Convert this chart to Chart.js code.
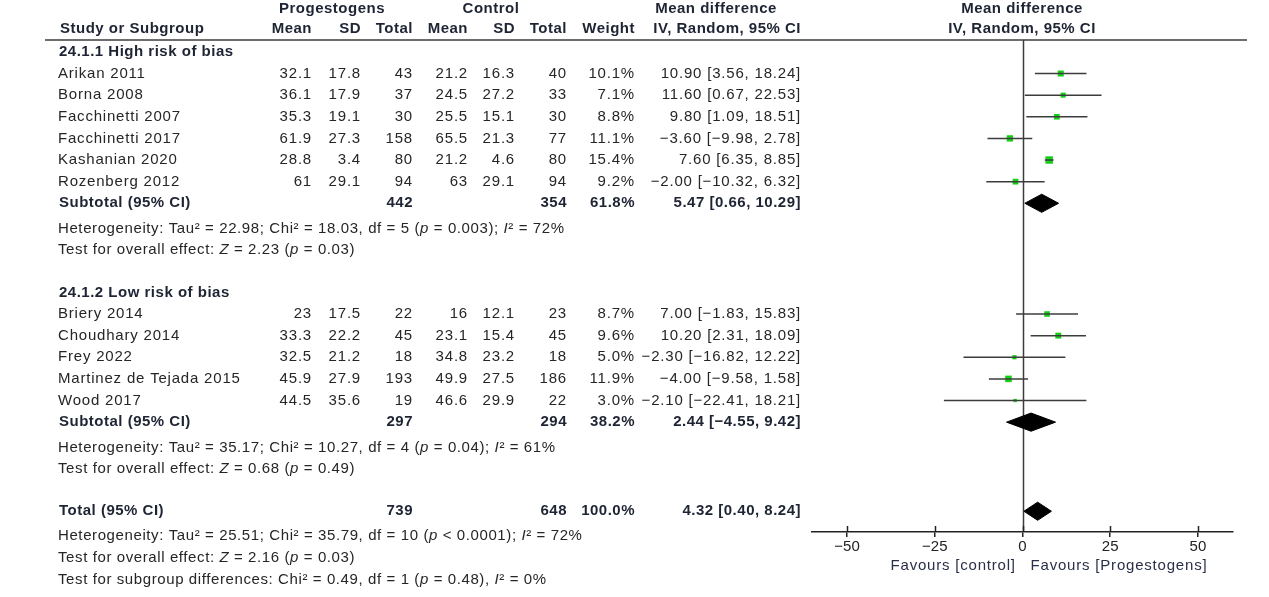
<!DOCTYPE html>
<html>
<head>
<meta charset="utf-8">
<script src="https://cdn.jsdelivr.net/npm/chart.js@4.4.1/dist/chart.umd.min.js"></script>
<style>
  html, body { margin: 0; padding: 0; background: #fff; }
  canvas { display: block; }
</style>
</head>
<body>
<canvas id="forest" width="1269" height="597"></canvas>
<script>
// study data
const studies = ['Arikan 2011', 'Borna 2008', 'Facchinetti 2007', 'Facchinetti 2017', 'Kashanian 2020', 'Rozenberg 2012',
                 'Briery 2014', 'Choudhary 2014', 'Frey 2022', 'Martinez de Tejada 2015', 'Wood 2017'];
const studyGroup = [0, 0, 0, 0, 0, 0, 1, 1, 1, 1, 1];
const progMean = [32.1, 36.1, 35.3, 61.9, 28.8, 61, 23, 33.3, 32.5, 45.9, 44.5];
const progSD = [17.8, 17.9, 19.1, 27.3, 3.4, 29.1, 17.5, 22.2, 21.2, 27.9, 35.6];
const progN = [43, 37, 30, 158, 80, 94, 22, 45, 18, 193, 19];
const ctrlMean = [21.2, 24.5, 25.5, 65.5, 21.2, 63, 16, 23.1, 34.8, 49.9, 46.6];
const ctrlSD = [16.3, 27.2, 15.1, 21.3, 4.6, 29.1, 12.1, 15.4, 23.2, 27.5, 29.9];
const ctrlN = [40, 33, 30, 77, 80, 94, 23, 45, 18, 186, 22];
const weight = [10.1, 7.1, 8.8, 11.1, 15.4, 9.2, 8.7, 9.6, 5.0, 11.9, 3.0];
const md = [10.90, 11.60, 9.80, -3.60, 7.60, -2.00, 7.00, 10.20, -2.30, -4.00, -2.10];
const ciLow = [3.56, 0.67, 1.09, -9.98, 6.35, -10.32, -1.83, 2.31, -16.82, -9.58, -22.41];
const ciHigh = [18.24, 22.53, 18.51, 2.78, 8.85, 6.32, 15.83, 18.09, 12.22, 1.58, 18.21];

// subgroups + overall (last entry = total)
const groupNames = ['24.1.1 High risk of bias', '24.1.2 Low risk of bias'];
const pooledLabel = ['Subtotal (95% CI)', 'Subtotal (95% CI)', 'Total (95% CI)'];
const pooledProgN = [442, 297, 739];
const pooledCtrlN = [354, 294, 648];
const pooledWeight = [61.8, 38.2, 100.0];
const pooledMd = [5.47, 2.44, 4.32];
const pooledLow = [0.66, -4.55, 0.40];
const pooledHigh = [10.29, 9.42, 8.24];
const hetTau = ['22.98', '35.17', '25.51'];
const hetChi = ['18.03', '10.27', '35.79'];
const hetDf = [5, 4, 10];
const hetP = ['= 0.003', '= 0.04', '< 0.0001'];
const hetI2 = [72, 61, 72];
const effZ = ['2.23', '0.68', '2.16'];
const effP = ['0.03', '0.49', '0.03'];
const subgroupDiff = 'Test for subgroup differences: Chi² = 0.49, df = 1 (_p_ = 0.48), _I_² = 0%';

const xTicks = [-50, -25, 0, 25, 50];

// ---- row layout (in row units) ----
const FONT = '"Liberation Sans", Arial, sans-serif';
const TEXT = '#262626';
const HEAD = '#1e2433';
const lines = [];   // {pos, kind, ...}
const studyRow = [];
const pooledRow = [];
let pos = 0;
for (let g = 0; g < groupNames.length; g++) {
  lines.push({ pos, kind: 'group', g });
  studies.forEach((s, i) => {
    if (studyGroup[i] !== g) return;
    pos += 1;
    studyRow[i] = pos;
    lines.push({ pos, kind: 'study', i });
  });
  pos += 1;
  pooledRow[g] = pos;
  lines.push({ pos, kind: 'pooled', g });
  pos += 1.17;
  lines.push({ pos, kind: 'het', g });
  pos += 1;
  lines.push({ pos, kind: 'z', g });
  pos += 1.95;
}
pooledRow[2] = pos;
lines.push({ pos, kind: 'pooled', g: 2 });
pos += 1.15;
lines.push({ pos, kind: 'het', g: 2 });
pos += 1;
lines.push({ pos, kind: 'z', g: 2 });
pos += 1;
lines.push({ pos, kind: 'diff' });

const fmt = (v, d) => (d === undefined ? String(v) : v.toFixed(d)).replace('-', '\u2212');
const ciText = (m, lo, hi) => fmt(m, 2) + ' [' + fmt(lo, 2) + ', ' + fmt(hi, 2) + ']';

// ---- datasets ----
const datasets = [];
studies.forEach((s, i) => {
  datasets.push({
    type: 'line',
    data: [{ x: ciLow[i], y: studyRow[i] }, { x: ciHigh[i], y: studyRow[i] }],
    borderColor: '#3c3c3c', borderWidth: 1.5, pointRadius: 0, tension: 0, fill: false
  });
});
datasets.push({
  type: 'scatter',
  data: studies.map((s, i) => ({ x: md[i], y: studyRow[i] })),
  pointStyle: 'rect',
  pointRadius: weight.map(w => 1.9 * Math.sqrt(w) / Math.SQRT2),
  backgroundColor: '#14d014', borderWidth: 0
});
const DIAMOND_H = 0.42;
pooledMd.forEach((m, g) => {
  const r = pooledRow[g];
  datasets.push({
    type: 'line',
    data: [
      { x: pooledLow[g], y: r }, { x: m, y: r - DIAMOND_H },
      { x: pooledHigh[g], y: r }, { x: m, y: r + DIAMOND_H }, { x: pooledLow[g], y: r }
    ],
    borderColor: '#000', borderWidth: 1, backgroundColor: '#000',
    pointRadius: 0, tension: 0, fill: 'shape'
  });
});

// ---- text table plugin ----
function drawRich(ctx, str, x, y) {
  const parts = str.split('_');
  let cx = x;
  parts.forEach((p, k) => {
    ctx.font = (k % 2 ? 'italic ' : '') + '15px ' + FONT;
    ctx.textAlign = 'left';
    ctx.fillText(p, cx, y);
    cx += ctx.measureText(p).width;
  });
}

const tablePlugin = {
  id: 'table',
  beforeDatasetsDraw(chart) {
    const { ctx, chartArea, scales: { x } } = chart;
    ctx.save();
    ctx.strokeStyle = '#3c3c3c';
    ctx.lineWidth = 1.5;
    const x0 = Math.round(x.getPixelForValue(0)) + 0.5;
    ctx.beginPath();
    ctx.moveTo(x0, chartArea.top);
    ctx.lineTo(x0, chartArea.bottom);
    ctx.stroke();
    ctx.restore();
  },
  afterDraw(chart) {
    const { ctx, chartArea, scales: { x, y } } = chart;
    const py = v => y.getPixelForValue(v);
    ctx.save();
    ctx.textBaseline = 'middle';
    const put = (s, px, yy, align, bold, color) => {
      ctx.font = (bold ? 'bold ' : '') + '15px ' + FONT;
      ctx.letterSpacing = bold ? '0.5px' : '0.8px';
      ctx.fillStyle = color || (bold ? HEAD : TEXT);
      ctx.textAlign = align;
      ctx.fillText(s, px, yy);
    };
    // header
    const h1 = py(-2.0), h2 = py(-1.06);
    put('Progestogens', 332, h1, 'center', true);
    put('Control', 491, h1, 'center', true);
    put('Mean difference', 716, h1, 'center', true);
    put('Mean difference', 1022, h1, 'center', true);
    put('Study or Subgroup', 60, h2, 'left', true);
    put('Mean', 312, h2, 'right', true);
    put('SD', 361, h2, 'right', true);
    put('Total', 413, h2, 'right', true);
    put('Mean', 468, h2, 'right', true);
    put('SD', 515, h2, 'right', true);
    put('Total', 567, h2, 'right', true);
    put('Weight', 635, h2, 'right', true);
    put('IV, Random, 95% CI', 801, h2, 'right', true);
    put('IV, Random, 95% CI', 1022, h2, 'center', true);
    ctx.strokeStyle = '#3c3c3c';
    ctx.lineWidth = 1.5;
    ctx.beginPath();
    ctx.moveTo(45, chartArea.top);
    ctx.lineTo(1247, chartArea.top);
    ctx.stroke();

    lines.forEach(l => {
      const yy = py(l.pos);
      if (l.kind === 'group') {
        put(groupNames[l.g], 59, yy, 'left', true);
      } else if (l.kind === 'study') {
        const i = l.i;
        put(studies[i], 58, yy, 'left');
        put(fmt(progMean[i]), 312, yy, 'right');
        put(fmt(progSD[i]), 361, yy, 'right');
        put(fmt(progN[i]), 413, yy, 'right');
        put(fmt(ctrlMean[i]), 468, yy, 'right');
        put(fmt(ctrlSD[i]), 515, yy, 'right');
        put(fmt(ctrlN[i]), 567, yy, 'right');
        put(weight[i].toFixed(1) + '%', 635, yy, 'right');
        put(ciText(md[i], ciLow[i], ciHigh[i]), 801, yy, 'right');
      } else if (l.kind === 'pooled') {
        const g = l.g;
        put(pooledLabel[g], 59, yy, 'left', true);
        put(String(pooledProgN[g]), 413, yy, 'right', true);
        put(String(pooledCtrlN[g]), 567, yy, 'right', true);
        put(pooledWeight[g].toFixed(1) + '%', 635, yy, 'right', true);
        put(ciText(pooledMd[g], pooledLow[g], pooledHigh[g]), 801, yy, 'right', true);
      } else {
        ctx.fillStyle = TEXT;
        ctx.letterSpacing = '0.6px';
        let s;
        if (l.kind === 'het') {
          s = 'Heterogeneity: Tau² = ' + hetTau[l.g] + '; Chi² = ' + hetChi[l.g] + ', df = ' + hetDf[l.g] +
            ' (_p_ ' + hetP[l.g] + '); _I_² = ' + hetI2[l.g] + '%';
        } else if (l.kind === 'z') {
          s = 'Test for overall effect: _Z_ = ' + effZ[l.g] + ' (_p_ = ' + effP[l.g] + ')';
        } else {
          s = subgroupDiff;
        }
        drawRich(ctx, s, 58, yy);
      }
    });

    // upper half of the axis ticks
    ctx.strokeStyle = '#222';
    ctx.lineWidth = 1.5;
    xTicks.forEach(v => {
      const px = Math.round(x.getPixelForValue(v)) + 0.5;
      ctx.beginPath();
      ctx.moveTo(px, chartArea.bottom - 6);
      ctx.lineTo(px, chartArea.bottom);
      ctx.stroke();
    });
    // favours labels
    const fy = chartArea.bottom + 34;
    put('Favours [control]', x.getPixelForValue(-1.9), fy, 'right', false, '#2a2f4a');
    put('Favours [Progestogens]', x.getPixelForValue(2.3), fy, 'left', false, '#2a2f4a');
    ctx.restore();
  }
};

new Chart(document.getElementById('forest'), {
  type: 'scatter',
  data: { datasets },
  options: {
    responsive: false,
    animation: false,
    devicePixelRatio: 1,
    layout: { padding: { top: 40, left: 812, right: 36, bottom: 40 } },
    plugins: { legend: { display: false }, tooltip: { enabled: false } },
    scales: {
      x: {
        type: 'linear', min: -60, max: 60,
        afterBuildTicks: scale => { scale.ticks = xTicks.map(v => ({ value: v })); },
        ticks: {
          font: { family: FONT, size: 15 }, color: '#222', padding: 1,
          callback: v => fmt(v)
        },
        grid: { drawOnChartArea: false, drawTicks: true, tickLength: 5, color: '#222', lineWidth: 1.5 },
        border: { display: true, color: '#222', width: 1.5 }
      },
      y: { type: 'linear', reverse: true, min: -0.55, max: 22.2, display: false }
    }
  },
  plugins: [tablePlugin]
});
</script>
</body>
</html>
